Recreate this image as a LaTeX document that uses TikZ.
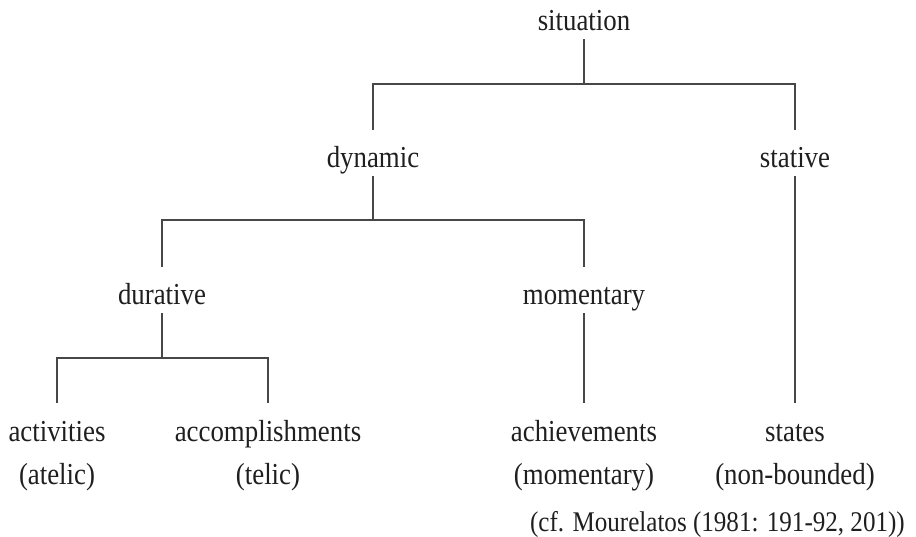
\documentclass[tikz,border=0pt]{standalone}
\usepackage{fontspec}
\setmainfont{Liberation Serif}[FakeStretch=0.88]
\usetikzlibrary{calc}
\begin{document}
\begin{tikzpicture}[x=1pt,y=-1pt,
  treenode/.style={inner sep=0pt, anchor=base, text height=38pt, text depth=8pt,
    font=\fontsize{30.5}{36}\selectfont, text=black!88},
  note/.style={inner sep=0pt, anchor=base, font=\fontsize{30.5}{36}\selectfont, text=black!88},
  cite/.style={inner sep=0pt, anchor=base east, font=\fontsize{28.5}{34}\selectfont, text=black!88},
  branch/.style={line width=1.4pt, draw=black!72}]
\path[use as bounding box] (0,0) rectangle (916,537);
% nodes
\node[treenode] (sit)  at (584,31)  {situation};
\node[treenode] (dyn)  at (373,168) {dynamic};
\node[treenode] (stat) at (795,168) {stative};
\node[treenode] (dur)  at (162,305) {durative};
\node[treenode] (mom)  at (584,305) {momentary};
\node[treenode] (act)  at (57,441)  {activities};
\node[treenode] (acc)  at (268,441) {accomplishments};
\node[treenode] (ach)  at (584,441) {achievements};
\node[treenode] (sts)  at (795,441) {states};
\node[note] (actn) at (57,484)  {(atelic)};
\node[note] (accn) at (268,484) {(telic)};
\node[note] (achn) at (584,484) {(momentary)};
\node[note] (stsn) at (795,484) {(non-bounded)};
\node[cite] (ref) at (905,531) {(cf. Mourelatos (1981: 191-92, 201))};
% connectors
\draw[branch] (sit.south) -- ($(sit.base)+(0,53)$) coordinate (sitbar);
\draw[branch] (dyn.north) |- (sitbar) -| (stat.north);
\draw[branch] (dyn.south) -- ($(dyn.base)+(0,52)$) coordinate (dynbar);
\draw[branch] (dur.north) |- (dynbar) -| (mom.north);
\draw[branch] (dur.south) -- ($(dur.base)+(0,53)$) coordinate (durbar);
\draw[branch] (act.north) |- (durbar) -| (acc.north);
\draw[branch] (mom.south) -- (ach.north);
\draw[branch] (stat.south) -- (sts.north);
\end{tikzpicture}
\end{document}
